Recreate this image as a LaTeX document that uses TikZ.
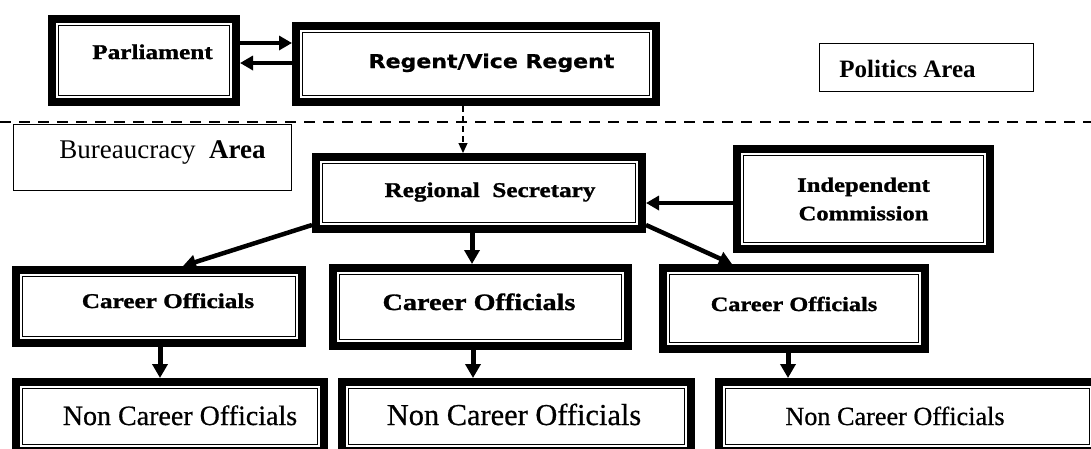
\documentclass[tikz,border=0pt]{standalone}
\usepackage{fontspec}
\setmainfont{Liberation Serif}
\newfontfamily\boxserif[FakeStretch=1.2,FakeBold=1.2]{Liberation Serif Bold}
\newfontfamily\boxsans[FakeStretch=1.16,FakeBold=0.8]{DejaVu Sans Bold}
\newfontfamily\ncserif[FakeBold=0.6]{Liberation Serif}
\usetikzlibrary{arrows.meta,calc}
\newcommand\offtext[3]{\makebox[0pt]{\hspace*{#1}\hspace*{#1}\raisebox{#2}[0pt][0pt]{#3}}}
\tikzset{
  frame/.style={draw, line width=8pt, inner sep=0pt},
  innerline/.style={draw, line width=1.6pt},
  thinbox/.style={draw, line width=1.2pt, inner sep=0pt},
  sfont/.style={font=\boxserif\fontsize{#1}{#1}\selectfont},
  rfont/.style={font=\ncserif\fontsize{#1}{#1}\selectfont},
  thickarrow/.style={line width=4.5pt, -{Triangle[length=13pt,width=14pt]}},
  vertarrow/.style={line width=5pt, -{Triangle[length=14pt,width=15pt]}},
  dasharrow/.style={line width=1.2pt, dash pattern=on 6pt off 4pt, -{Triangle[length=10pt,width=9pt]}},
  separator/.style={line width=2pt, dash pattern=on 11pt off 8pt}
}
\begin{document}
\begin{tikzpicture}[x=1pt,y=-1pt]
\clip (0,0) rectangle (1091,448);
\fill[white] (0,0) rectangle (1091,448);
% separator between areas
\draw[separator] (0,122) -- (1091,122);
% area labels
\node[thinbox, minimum width=213.8pt, minimum height=47.8pt, font=\bfseries\fontsize{25}{25}\selectfont] (politics) at (926.5,67.5) {\offtext{-19pt}{-9.5pt}{Politics Area}};
\node[thinbox, minimum width=277.8pt, minimum height=65.8pt, font=\fontsize{27}{27}\selectfont] (bureau) at (152.5,157.5) {\offtext{10pt}{-0.5pt}{Bureaucracy\ \ \textbf{Area}}};
% boxes
\node[frame, sfont=21, minimum width=184pt, minimum height=83pt] (parl) at (144,60.5) {\offtext{8.5pt}{1.5pt}{Parliament}};
\node[frame, font=\boxsans\fontsize{19}{19}\selectfont, minimum width=360pt, minimum height=76pt] (regent) at (476,64) {\offtext{15.5pt}{-4pt}{Regent/Vice Regent}};
\node[frame, sfont=21, minimum width=326pt, minimum height=72pt] (regsec) at (479,193) {\offtext{11pt}{-4pt}{Regional\ \ Secretary}};
\node[frame, sfont=20.5, align=center, minimum width=253pt, minimum height=100pt] (ic) at (863.5,199) {Independent\\[8pt]Commission};
\node[frame, sfont=21, minimum width=286pt, minimum height=73pt] (co1) at (159,306.5) {\offtext{9pt}{-1.5pt}{Career Officials}};
\node[frame, sfont=23.5, minimum width=295pt, minimum height=78pt] (co2) at (480.5,307) {\offtext{-1.5pt}{-3pt}{Career Officials}};
\node[frame, sfont=20.3, minimum width=262pt, minimum height=81pt] (co3) at (794,308.5) {\offtext{0pt}{-2.5pt}{Career Officials}};
\node[frame, rfont=28, minimum width=308pt, minimum height=69pt] (nc1) at (170,416.5) {\offtext{10pt}{-8.5pt}{Non Career Officials}};
\node[frame, rfont=30.4, minimum width=349pt, minimum height=69pt] (nc2) at (516.5,416.5) {\offtext{-2.5pt}{-8.5pt}{Non Career Officials}};
\node[frame, rfont=26.2, minimum width=377pt, minimum height=69pt] (nc3) at (907.5,416.5) {\offtext{-12.5pt}{-8.5pt}{Non Career Officials}};
% inner thin frames
\foreach \n in {parl,regent,regsec,ic,co1,co2,co3,nc1,nc2,nc3}
  \draw[innerline] ([shift={(10.5,10.5)}]\n.north west) rectangle ([shift={(-10.5,-10.5)}]\n.south east);
% connectors
\draw[thickarrow] ($(parl.east)+(0,-17.5)$) -- ($(regent.west)+(0,-21)$);
\draw[thickarrow] ($(regent.west)+(0,-1)$) -- ($(parl.east)+(0,2.5)$);
\draw[dasharrow] ($(regent.south)+(-13,0)$) -- ($(regsec.north)+(-16,0)$);
\draw[thickarrow] ($(ic.west)+(0,4)$) -- ($(regsec.east)+(0,10)$);
\draw[thickarrow] ($(regsec.south west)+(0,-8)$) -- ($(co1.north)+(24,0)$);
\draw[vertarrow] ($(regsec.south)+(-7,0)$) -- ($(co2.north)+(-8.5,0)$);
\draw[thickarrow] ($(regsec.south east)+(0,-8)$) -- ($(co3.north)+(-62,0)$);
\draw[vertarrow] ($(co1.south)+(1,0)$) -- ($(nc1.north)+(-10,0)$);
\draw[vertarrow] ($(co2.south)+(-7.5,0)$) -- ($(nc2.north)+(-43.5,0)$);
\draw[vertarrow] ($(co3.south)+(-6,0)$) -- ($(nc3.north)+(-119.5,0)$);
\end{tikzpicture}
\end{document}
